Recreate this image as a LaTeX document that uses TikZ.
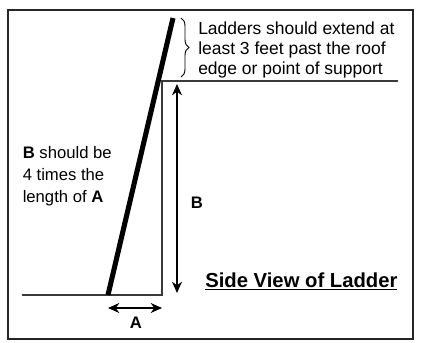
\documentclass[tikz,border=0pt]{standalone}
\usepackage{fontspec}
\setmainfont{Liberation Sans}
\usetikzlibrary{arrows.meta,decorations.pathreplacing}
\definecolor{ink}{HTML}{000000}
\definecolor{frame}{HTML}{262626}
\definecolor{edge}{HTML}{3A3A3A}

\begin{document}
\begin{tikzpicture}[x=0.75pt,y=-0.75pt,
  note/.style={anchor=base west,align=left,inner sep=0pt,font=\fontsize{13.1}{15}\selectfont},
  dimarrow/.style={{Stealth[length=8.5pt,width=7.5pt]}-{Stealth[length=8.5pt,width=7.5pt]},line width=0.8pt},
  dimlabel/.style={font=\fontsize{12.5}{15}\selectfont\bfseries,inner sep=0pt}]

\useasboundingbox (0,0) rectangle (422,343);
\draw[frame,line width=1.4pt] (8,10) rectangle (413,339);

% ground, wall and roof edge
\coordinate (ground) at (22,295);
\coordinate (wallfoot) at (162,295);
\coordinate (walltop) at (162,81);
\coordinate (roofend) at (398,81);
\draw[edge,line width=0.8pt] (ground) -- (wallfoot) -- (walltop) -- (roofend);

% the ladder
\coordinate (foot) at (108,295);
\coordinate (tip) at (173,18);
\draw[ink,line width=3.8pt] (foot) -- (tip);

% extension brace and note (anchored on the last line)
\coordinate (bracetop) at (181,18);
\coordinate (bracebot) at (181,77);
\draw[ink,line width=0.7pt,decorate,decoration={brace,amplitude=6pt}] (bracetop) -- (bracebot);
\node[note] (roofnote) at (198,74) {Ladders should extend at\\least 3 feet past the roof\\edge or point of support};

% B dimension
\coordinate (btop) at (177,84);
\coordinate (bbot) at (177,293);
\draw[dimarrow] (btop) -- (bbot);
\node[dimlabel] (blabel) at (197,203) {B};

% A dimension
\coordinate (aleft) at (108,308);
\coordinate (aright) at (162,308);
\draw[dimarrow] (aleft) -- (aright);
\node[dimlabel] (alabel) at (136,323) {A};

\node[note,font=\fontsize{12.5}{16.2}\selectfont] (ratio) at (22.5,202) {\textbf{B} should be\\4 times the\\length of \textbf{A}};

\node[anchor=base west,inner sep=0pt,font=\fontsize{15.2}{18}\selectfont\bfseries] (title) at (205,287) {\underline{Side View of Ladder}};

\end{tikzpicture}
\end{document}
